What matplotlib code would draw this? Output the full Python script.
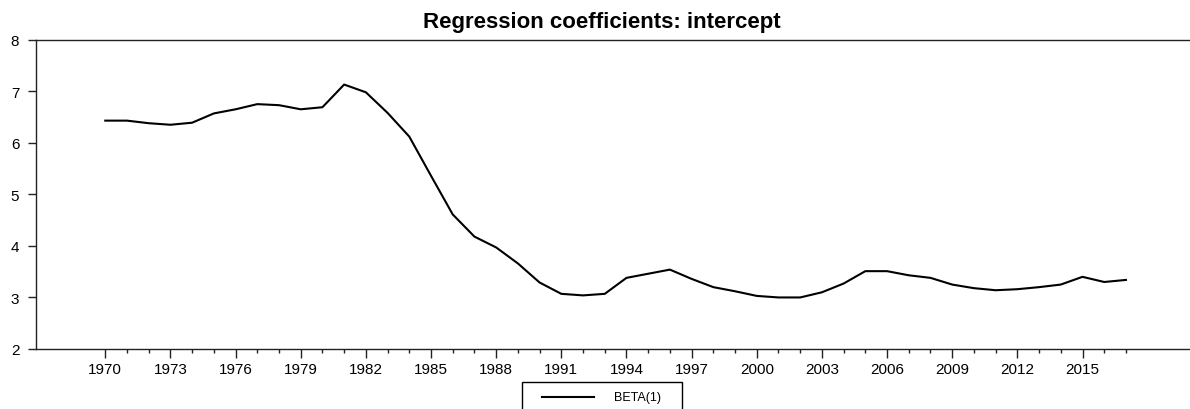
import matplotlib.pyplot as plt
from matplotlib.patches import Rectangle
from matplotlib.lines import Line2D
from matplotlib.ticker import MultipleLocator

plt.rcParams['font.family'] = ['Liberation Sans', 'DejaVu Sans']

# Coeficiente del intercepto por año
years = list(range(1970, 2018))
beta1 = [6.43, 6.43, 6.38, 6.35, 6.39, 6.57, 6.65, 6.75, 6.73, 6.65,
         6.69, 7.13, 6.98, 6.58, 6.12, 5.36, 4.61, 4.18, 3.97, 3.66,
         3.29, 3.07, 3.04, 3.07, 3.38, 3.46, 3.54, 3.36, 3.20, 3.12,
         3.03, 3.00, 3.00, 3.10, 3.27, 3.51, 3.51, 3.43, 3.38, 3.25,
         3.18, 3.14, 3.16, 3.20, 3.25, 3.40, 3.30, 3.34]
series_name = 'BETA(1)'
title = 'Regression coefficients: intercept'

W, H = 1190, 410
fig = plt.figure(figsize=(W / 100, H / 100), dpi=100)
ax = fig.add_axes([36 / W, 1 - 350 / H, 1 - 36 / W, (350 - 40.7) / H])

ax.plot(years, beta1, color='black', linewidth=1.5)

ax.set_xlim(1966.81, 2019.95)
ax.set_ylim(2, 8)
ax.set_xticks(list(range(1970, 2018, 3)))
# los minor ticks solo hasta 2017
ax.set_xticks([y for y in years if (y - 1970) % 3 != 0], minor=True)
ax.set_yticks(range(2, 9))

ax.spines['right'].set_visible(False)
for s in ['left', 'top', 'bottom']:
    ax.spines[s].set_color('#222222')
    ax.spines[s].set_linewidth(1.0)

ax.tick_params(axis='x', which='major', direction='out', length=6.2, width=1,
               pad=3.3, labelsize=11, color='#222222')
ax.tick_params(axis='x', which='minor', direction='out', length=3, width=1,
               color='#222222')
ax.tick_params(axis='y', direction='out', length=5.5, width=1, pad=6.5,
               labelsize=11, color='#222222')

fig.text(602 / W, 1 - 27.7 / H, title, ha='center', va='baseline',
         fontsize=16, fontweight='bold')

# leyenda abajo, cortada por el borde
fig.add_artist(Rectangle((521.7 / W, -0.1), (682.3 - 521.7) / W, 1 - 383.3 / H + 0.1,
                         transform=fig.transFigure, fill=False,
                         edgecolor='black', linewidth=1.0, clip_on=False))
fig.add_artist(Line2D([542 / W, 594 / W], [1 - 397.7 / H] * 2,
                      transform=fig.transFigure, color='black', linewidth=1.5))
fig.text(614 / W, 1 - 397.7 / H, series_name, ha='left', va='center', fontsize=9)

fig.savefig('out.png', dpi=100)
